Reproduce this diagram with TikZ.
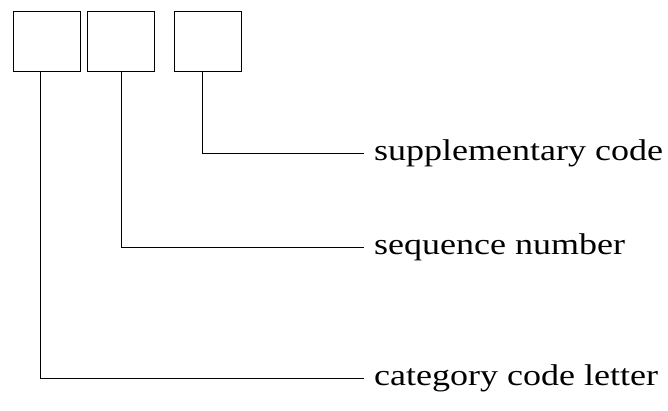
\documentclass[tikz,border=0pt]{standalone}
\usepackage{fontspec}
\setmainfont[FakeStretch=1.2]{Liberation Serif}
\usetikzlibrary{calc}

\begin{document}
\begin{tikzpicture}[x=1pt,y=-1pt]
          \useasboundingbox (0,0) rectangle (668,410);
          \tikzset{field/.style={draw,minimum width=67pt,minimum height=60pt,inner sep=0pt,anchor=north west},
                   lbl/.style={anchor=west,inner sep=0pt,font=\fontsize{30}{34}\selectfont}}
          \node[field] (cat) at (13,11) {};
          \node[field] (seq) at (87,11) {};
          \node[field] (sup) at (174,11) {};
          \node[lbl] (suplbl) at (374,153) {supplementary code};
          \node[lbl] (seqlbl) at (374,247) {sequence number};
          \node[lbl] (catlbl) at (374,378) {category code letter};
          \coordinate (supend) at (364,153);
          \coordinate (seqend) at (364,247);
          \coordinate (catend) at (364,378);
          \draw (cat.south west)++(27,0) |- (catend);
          \draw (seq.south west)++(34,0) |- (seqend);
          \draw (sup.south west)++(28,0) |- (supend);
        \end{tikzpicture}
\end{document}
